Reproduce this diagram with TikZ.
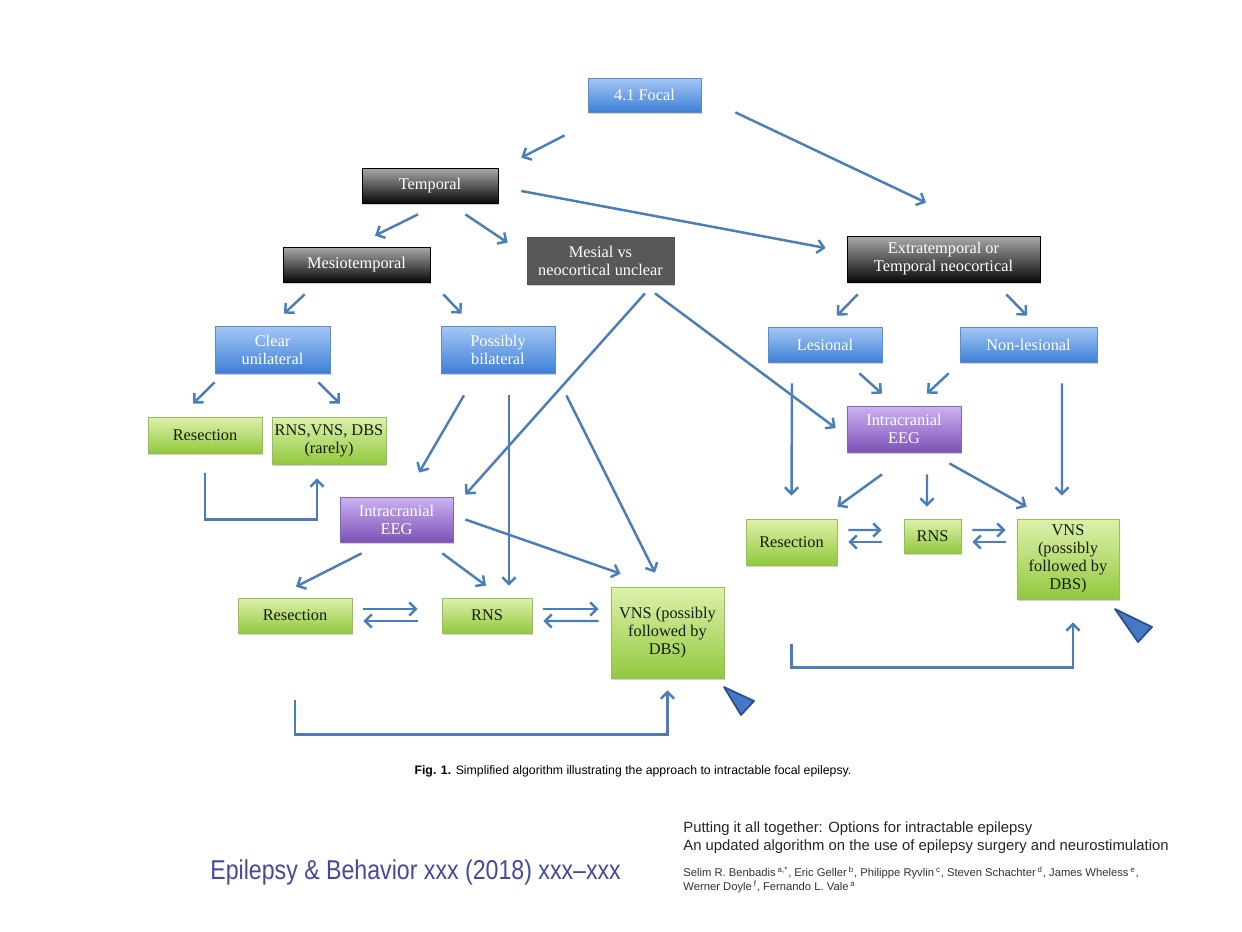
\documentclass[tikz,border=0pt]{standalone}
\usepackage{fontspec}
\setmainfont{Liberation Serif}
\newfontfamily\capfont{Liberation Sans}
\newfontfamily\jfont[FakeStretch=0.85]{Liberation Sans}
\usepackage{tikz}
\usetikzlibrary{arrows.meta,shadows}

\definecolor{bluetop}{RGB}{165,199,245}
\definecolor{bluebot}{RGB}{62,128,214}
\definecolor{blueedge}{RGB}{90,140,205}
\definecolor{darktop}{RGB}{170,170,170}
\definecolor{darkbot}{RGB}{8,8,8}
\definecolor{mesgray}{RGB}{88,88,88}
\definecolor{greentop}{RGB}{222,241,172}
\definecolor{greenbot}{RGB}{146,201,62}
\definecolor{greenedge}{RGB}{150,190,90}
\definecolor{greentext}{RGB}{22,28,12}
\definecolor{purptop}{RGB}{205,178,242}
\definecolor{purpbot}{RGB}{124,82,182}
\definecolor{purpedge}{RGB}{130,100,180}
\definecolor{arrblue}{RGB}{74,126,187}
\definecolor{triblue}{RGB}{70,120,195}
\definecolor{triedge}{RGB}{40,80,145}
\definecolor{jblue}{RGB}{66,74,158}

\begin{document}
\begin{tikzpicture}[
base/.style={align=center, inner sep=0pt, font=\fontsize{9.3}{10.3}\selectfont, line width=0.4pt, drop shadow={opacity=0.35,shadow xshift=0.7pt,shadow yshift=-1pt}},
blu/.style={base, draw=blueedge, top color=bluetop, bottom color=bluebot, text=white},
drk/.style={base, draw=black, top color=darktop, bottom color=darkbot, text=white},
gry/.style={base, draw=darkbot!70, fill=mesgray, text=white},
grn/.style={base, draw=greenedge, top color=greentop, bottom color=greenbot, text=greentext},
prp/.style={base, draw=purpedge, top color=purptop, bottom color=purpbot, text=white},
sz/.style 2 args={minimum width=#1cm, minimum height=#2cm},
arr/.style={draw=arrblue, line width=1.4pt, -{Straight Barb[length=3.8pt,width=7.5pt]}}
]
\path[fill=white] (0,0) rectangle (24.84,-18.64);
\useasboundingbox (0,0) rectangle (24.84,-18.64);

\node[blu,sz={2.26}{0.68}] (focal) at (12.89,-1.90) {4.1 Focal};
\node[drk,sz={2.72}{0.70}] (temp) at (8.60,-3.71) {Temporal};
\node[drk,sz={2.94}{0.70}] (meso) at (7.13,-5.29) {Mesiotemporal};
\node[gry,sz={2.94}{0.94}] (mesial) at (12.01,-5.21) {Mesial vs\\neocortical unclear};
\node[drk,sz={3.86}{0.92}] (extra) at (18.87,-5.18) {Extratemporal or\\Temporal neocortical};
\node[blu,sz={2.30}{0.94}] (clear) at (5.45,-6.99) {Clear\\unilateral};
\node[blu,sz={2.28}{0.94}] (bilat) at (9.96,-6.99) {Possibly\\bilateral};
\node[blu,sz={2.28}{0.70}] (les) at (16.50,-6.89) {Lesional};
\node[blu,sz={2.74}{0.70}] (nonles) at (20.57,-6.89) {Non-lesional};
\node[grn,sz={2.28}{0.72}] (resa) at (4.10,-8.70) {Resection};
\node[grn,sz={2.28}{0.94}] (rnsa) at (6.58,-8.81) {RNS,VNS, DBS\\(rarely)};
\node[prp,sz={2.26}{0.90}] (ieegl) at (7.93,-10.39) {Intracranial\\EEG};
\node[prp,sz={2.28}{0.92}] (ieegr) at (18.08,-8.58) {Intracranial\\EEG};
\node[grn,sz={2.28}{0.70}] (resl) at (5.90,-12.31) {Resection};
\node[grn,sz={1.80}{0.70}] (rnsl) at (9.74,-12.31) {RNS};
\node[grn,sz={2.26}{1.82}] (vnsl) at (13.35,-12.65) {VNS (possibly\\followed by\\DBS)};
\node[grn,sz={1.82}{0.92}] (resr) at (15.83,-10.84) {Resection};
\node[grn,sz={1.14}{0.68}] (rnsr) at (18.65,-10.72) {RNS};
\node[grn,sz={2.04}{1.60}] (vnsr) at (21.36,-11.18) {VNS\\(possibly\\followed by\\DBS)};

\draw[arr] ([shift={(-0.46,-0.46)}]focal.south west) -- ([shift={(0.46,0.20)}]temp.north east);
\draw[arr] ([shift={(0.68,0)}]focal.south east) -- ([shift={(-0.35,0.66)}]extra.north);
\draw[arr] ([shift={(-0.24,-0.22)}]temp.south) -- ([shift={(0.37,0.22)}]meso.north);
\draw[arr] ([shift={(-0.66,-0.22)}]temp.south east) -- ([shift={(-0.38,-0.12)}]mesial.north west);
\draw[arr] ([shift={(0.46,-0.11)}]temp.east) -- ([shift={(-0.42,0.22)}]extra.west);
\draw[arr] ([shift={(0.44,-0.24)}]meso.south west) -- ([shift={(0.23,0.24)}]clear.north);
\draw[arr] ([shift={(0.26,-0.24)}]meso.south east) -- ([shift={(0.42,0.24)}]bilat.north west);
\draw[arr] ([shift={(0.89,-0.18)}]mesial.south) -- ([shift={(0.24,0.04)}]ieegl.north east);
\draw[arr] ([shift={(1.09,-0.18)}]mesial.south) -- ([shift={(-0.22,0.02)}]ieegr.west);
\draw[arr] ([shift={(0.22,-0.24)}]extra.south west) -- ([shift={(0.24,0.22)}]les.north);
\draw[arr] ([shift={(-0.68,-0.24)}]extra.south east) -- ([shift={(-0.03,0.22)}]nonles.north);
\draw[arr] ([shift={(0,-0.18)}]clear.south west) -- ([shift={(-0.24,0.26)}]resa.north);
\draw[arr] ([shift={(-0.24,-0.18)}]clear.south east) -- ([shift={(0.22,0.26)}]rnsa.north);
\draw[arr] ([yshift=-0.40cm]resa.south) -- ++(0,-0.92) -| ([shift={(-0.24,-0.28)}]rnsa.south);
\draw[arr] ([shift={(-0.68,-0.44)}]bilat.south) -- ([shift={(0.45,0.48)}]ieegl.north);
\draw[arr] ([shift={(0.22,-0.44)}]bilat.south) -- ([shift={(0.44,0.24)}]rnsl.north);
\draw[arr] ([shift={(0.22,-0.44)}]bilat.south east) -- ([shift={(-0.25,0.28)}]vnsl.north);
\draw[arr] ([shift={(0.44,-0.22)}]ieegl.south west) -- ([shift={(0.02,0.22)}]resl.north);
\draw[arr] ([shift={(-0.22,-0.22)}]ieegl.south east) -- ([shift={(-0.02,0.24)}]rnsl.north);
\draw[arr] ([shift={(0.24,0)}]ieegl.east) -- ([shift={(0.20,0.26)}]vnsl.north west);
\draw[arr] ([shift={(0.22,0.13)}]resl.east) -- ([shift={(-0.48,0.13)}]rnsl.west);
\draw[arr] ([shift={(-0.48,-0.11)}]rnsl.west) -- ([shift={(0.22,-0.11)}]resl.east);
\draw[arr] ([shift={(0.22,0.13)}]rnsl.east) -- ([shift={(-0.24,0.47)}]vnsl.west);
\draw[arr] ([shift={(-0.24,0.23)}]vnsl.west) -- ([shift={(0.22,-0.11)}]rnsl.east);
\draw[arr] ([yshift=-1.34cm]resl.south) -- ++(0,-0.68) -| ([yshift=-0.24cm]vnsl.south);
\draw[arr] ([shift={(-0.46,-0.22)}]les.south east) -- ([shift={(-0.44,0.24)}]ieegr.north);
\draw[arr] ([shift={(-0.22,-0.22)}]nonles.south west) -- ([shift={(0.46,0.24)}]ieegr.north);
\draw[arr] ([shift={(-0.66,-0.42)}]les.south) -- ([shift={(0,0.46)}]resr.north);
\draw[arr] ([shift={(0.67,-0.42)}]nonles.south) -- ([shift={(-0.12,0.46)}]vnsr.north);
\draw[arr] ([shift={(-0.44,-0.44)}]ieegr.south) -- ([shift={(0,0.24)}]resr.north east);
\draw[arr] ([shift={(0.46,-0.44)}]ieegr.south) -- ([shift={(-0.11,0.24)}]rnsr.north);
\draw[arr] ([shift={(-0.24,-0.22)}]ieegr.south east) -- ([shift={(0.20,0.24)}]vnsr.north west);
\draw[arr] ([shift={(0.22,0.24)}]resr.east) -- ([shift={(-0.44,0.12)}]rnsr.west);
\draw[arr] ([shift={(-0.44,-0.12)}]rnsr.west) -- ([shift={(0.22,0)}]resr.east);
\draw[arr] ([shift={(0.22,0.12)}]rnsr.east) -- ([shift={(-0.22,0.58)}]vnsr.west);
\draw[arr] ([shift={(-0.22,0.34)}]vnsr.west) -- ([shift={(0.22,-0.12)}]rnsr.east);
\draw[arr] ([yshift=-1.58cm]resr.south) -- ++(0,-0.46) -| ([shift={(0.10,-0.46)}]vnsr.south);

\filldraw[draw=triedge, fill=triblue, line width=1pt, line join=round] (14.48,-13.74) -- (15.08,-14.02) -- (14.82,-14.30) -- cycle;
\filldraw[draw=triedge, fill=triblue, line width=1pt, line join=round] (22.30,-12.18) -- (23.04,-12.54) -- (22.76,-12.84) -- cycle;

\node[font=\capfont\fontsize{7.0}{8}\selectfont] (cap) at (12.66,-15.42) {\textbf{Fig. 1.} Simplified algorithm illustrating the approach to intractable focal epilepsy.};
\node[anchor=west, inner sep=0pt, text=jblue, font=\jfont\fontsize{15.5}{17}\selectfont] (journal) at (4.20,-17.44) {Epilepsy \& Behavior xxx (2018) xxx–xxx};
\node[anchor=north west, inner sep=0pt, align=left, text=black!85, font=\capfont\fontsize{8.45}{10.24}\selectfont] (title) at (13.66,-16.42) {Putting it all together: Options for intractable epilepsy\\An updated algorithm on the use of epilepsy surgery and neurostimulation};
\node[anchor=north west, inner sep=0pt, align=left, text=black!80, font=\capfont\fontsize{6.4}{8}\selectfont] (authors) at (13.66,-17.32) {Selim R. Benbadis\,\textsuperscript{a,*}, Eric Geller\,\textsuperscript{b}, Philippe Ryvlin\,\textsuperscript{c}, Steven Schachter\,\textsuperscript{d}, James Wheless\,\textsuperscript{e},\\Werner Doyle\,\textsuperscript{f}, Fernando L. Vale\,\textsuperscript{a}};
\end{tikzpicture}
\end{document}
